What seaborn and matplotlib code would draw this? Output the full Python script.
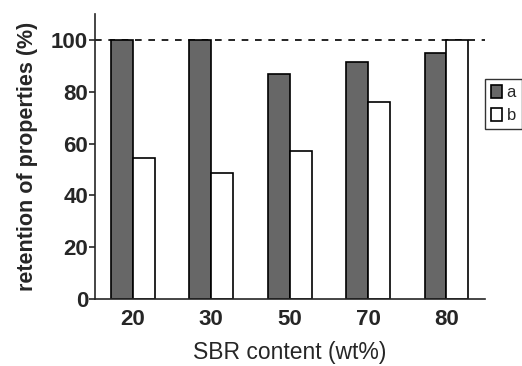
import pandas as pd
import seaborn as sns
import matplotlib.pyplot as plt

# values
sbr = ["20", "30", "50", "70", "80"]
a_vals = [100, 100, 87, 91.5, 95]
b_vals = [54.5, 48.5, 57, 76, 100]

df = pd.DataFrame({
    "sbr": sbr * 2,
    "value": a_vals + b_vals,
    "series": ["a"] * len(sbr) + ["b"] * len(sbr),
})

sns.set_style("ticks")
plt.rcParams['font.family'] = ['Liberation Sans', 'DejaVu Sans']

fig = plt.figure(figsize=(5.22, 3.66), dpi=100)
ax = fig.add_axes([0.182, 0.183, 0.747, 0.779])

sns.barplot(data=df, x="sbr", y="value", hue="series",
            palette=["#676767", "white"], edgecolor="black", linewidth=1.2,
            width=0.56, gap=0, ax=ax)

ax.axhline(100, color="black", linestyle=(0, (4, 4)), linewidth=1.2, zorder=0)

ax.set_xlim(-0.48, 4.49)
ax.set_ylim(0, 110)
ax.set_yticks([0, 20, 40, 60, 80, 100])
ax.tick_params(axis="x", length=0, pad=7, labelsize=16)
ax.tick_params(axis="y", length=4, width=1.2, direction="out", labelsize=16, pad=1)
for lbl in ax.get_xticklabels() + ax.get_yticklabels():
    lbl.set_fontweight("bold")
ax.set_xlabel("SBR content (wt%)", fontsize=16.5, labelpad=8)
ax.set_ylabel("retention of properties (%)", fontsize=15.5, fontweight="bold", labelpad=9)
sns.despine(ax=ax)
for s in ["left", "bottom"]:
    ax.spines[s].set_linewidth(1.2)

leg = ax.legend(loc="upper left", bbox_to_anchor=(1.0, 0.77), frameon=True,
                fancybox=False, edgecolor="black", fontsize=12,
                handlelength=0.7, handleheight=0.8, handletextpad=0.25,
                borderpad=0.35, labelspacing=0.45, borderaxespad=0)
leg.get_frame().set_linewidth(1.0)
leg.set_title(None)

fig.savefig("out.png", dpi=100)
